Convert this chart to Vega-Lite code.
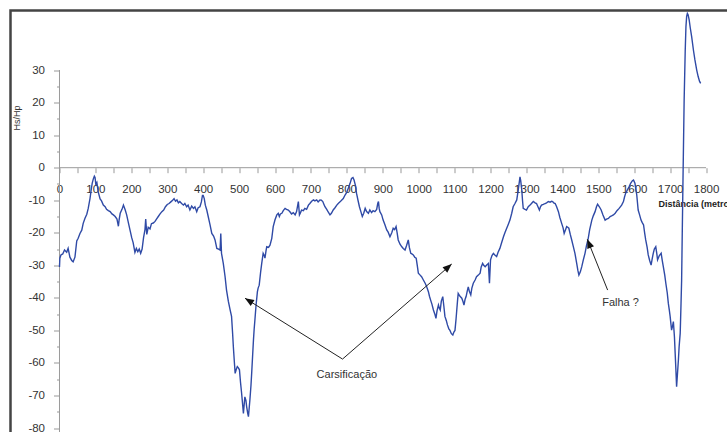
{
  "$schema": "https://vega.github.io/schema/vega-lite/v6.json",
  "autosize": "none",
  "width": 729.5,
  "height": 434.5,
  "padding": {"left": 10.5, "top": 10.5, "right": 0, "bottom": 0},
  "background": "white",
  "config": {
    "view": {"stroke": "#444444", "strokeWidth": 2.5},
    "font": "Liberation Sans"
  },
  "datasets": {
    "profile": [
      {"m":0,"v":-30.5},{"m":1,"v":-27.8},{"m":4,"v":-26.8},{"m":9,"v":-26.5},{"m":14,"v":-25.3},{"m":20,"v":-26.0},{"m":24,"v":-24.8},{"m":29,"v":-27.5},{"m":34,"v":-28.5},{"m":38,"v":-28.9},{"m":43,"v":-27.5},{"m":48,"v":-22.5},{"m":52,"v":-21.7},{"m":57,"v":-20.2},{"m":62,"v":-19.2},{"m":66,"v":-17.1},{"m":71,"v":-15.5},{"m":76,"v":-14.3},{"m":80,"v":-12.5},{"m":85,"v":-9.4},{"m":88,"v":-7.0},{"m":91,"v":-4.8},{"m":94,"v":-3.5},{"m":97,"v":-2.6},{"m":99,"v":-3.0},{"m":101,"v":-5.0},{"m":104,"v":-4.5},{"m":108,"v":-7.5},{"m":113,"v":-9.6},{"m":117,"v":-10.2},{"m":122,"v":-11.5},{"m":127,"v":-12.0},{"m":131,"v":-12.8},{"m":136,"v":-13.2},{"m":141,"v":-13.5},{"m":146,"v":-14.2},{"m":150,"v":-14.5},{"m":155,"v":-15.0},{"m":160,"v":-15.8},{"m":164,"v":-18.0},{"m":166,"v":-16.0},{"m":169,"v":-14.0},{"m":174,"v":-12.8},{"m":178,"v":-11.5},{"m":183,"v":-13.0},{"m":187,"v":-14.5},{"m":192,"v":-17.0},{"m":197,"v":-19.5},{"m":201,"v":-21.5},{"m":205,"v":-23.0},{"m":210,"v":-26.0},{"m":214,"v":-24.8},{"m":218,"v":-25.8},{"m":222,"v":-25.0},{"m":226,"v":-26.3},{"m":230,"v":-25.0},{"m":234,"v":-21.5},{"m":238,"v":-19.0},{"m":240,"v":-15.8},{"m":243,"v":-20.5},{"m":247,"v":-18.3},{"m":252,"v":-18.8},{"m":256,"v":-17.2},{"m":261,"v":-17.0},{"m":266,"v":-16.5},{"m":270,"v":-15.8},{"m":275,"v":-15.0},{"m":280,"v":-14.2},{"m":285,"v":-13.5},{"m":290,"v":-13.0},{"m":295,"v":-12.0},{"m":300,"v":-11.3},{"m":305,"v":-11.0},{"m":310,"v":-10.5},{"m":315,"v":-10.0},{"m":319,"v":-9.5},{"m":323,"v":-10.3},{"m":327,"v":-9.9},{"m":331,"v":-10.8},{"m":335,"v":-10.4},{"m":340,"v":-11.0},{"m":345,"v":-11.5},{"m":349,"v":-11.0},{"m":354,"v":-12.0},{"m":358,"v":-11.5},{"m":363,"v":-13.0},{"m":368,"v":-11.8},{"m":373,"v":-12.5},{"m":377,"v":-12.0},{"m":382,"v":-13.5},{"m":386,"v":-12.3},{"m":391,"v":-12.0},{"m":395,"v":-10.5},{"m":398,"v":-8.5},{"m":400,"v":-8.5},{"m":403,"v":-9.5},{"m":406,"v":-11.5},{"m":410,"v":-13.0},{"m":414,"v":-15.0},{"m":419,"v":-17.5},{"m":424,"v":-20.2},{"m":429,"v":-21.0},{"m":433,"v":-22.2},{"m":438,"v":-24.8},{"m":443,"v":-25.0},{"m":447,"v":-25.3},{"m":449,"v":-20.2},{"m":451,"v":-26.3},{"m":456,"v":-29.4},{"m":461,"v":-33.5},{"m":465,"v":-37.6},{"m":470,"v":-41.0},{"m":475,"v":-43.7},{"m":479,"v":-45.7},{"m":482,"v":-51.0},{"m":484,"v":-55.0},{"m":487,"v":-60.0},{"m":489,"v":-63.2},{"m":492,"v":-62.0},{"m":495,"v":-61.1},{"m":498,"v":-61.5},{"m":501,"v":-62.1},{"m":504,"v":-66.0},{"m":507,"v":-69.3},{"m":510,"v":-73.0},{"m":512,"v":-75.5},{"m":514,"v":-73.0},{"m":516,"v":-70.4},{"m":519,"v":-71.5},{"m":521,"v":-73.4},{"m":524,"v":-75.5},{"m":526,"v":-76.5},{"m":528,"v":-74.0},{"m":530,"v":-71.4},{"m":533,"v":-67.0},{"m":535,"v":-63.2},{"m":538,"v":-57.0},{"m":540,"v":-52.9},{"m":542,"v":-49.5},{"m":544,"v":-46.8},{"m":547,"v":-42.5},{"m":551,"v":-38.1},{"m":553,"v":-37.0},{"m":556,"v":-36.1},{"m":560,"v":-32.0},{"m":563,"v":-29.4},{"m":567,"v":-26.3},{"m":570,"v":-27.0},{"m":572,"v":-27.8},{"m":575,"v":-25.5},{"m":577,"v":-24.3},{"m":582,"v":-24.5},{"m":586,"v":-23.8},{"m":591,"v":-21.7},{"m":595,"v":-18.1},{"m":600,"v":-16.0},{"m":605,"v":-14.5},{"m":609,"v":-14.0},{"m":612,"v":-15.0},{"m":615,"v":-14.2},{"m":619,"v":-14.0},{"m":623,"v":-13.2},{"m":628,"v":-12.5},{"m":632,"v":-12.8},{"m":637,"v":-13.0},{"m":642,"v":-13.6},{"m":646,"v":-14.2},{"m":651,"v":-13.8},{"m":656,"v":-14.5},{"m":660,"v":-13.5},{"m":665,"v":-10.4},{"m":668,"v":-14.5},{"m":671,"v":-13.8},{"m":674,"v":-13.0},{"m":679,"v":-13.2},{"m":683,"v":-12.5},{"m":688,"v":-12.8},{"m":693,"v":-11.5},{"m":697,"v":-11.0},{"m":702,"v":-10.3},{"m":707,"v":-9.9},{"m":711,"v":-10.2},{"m":716,"v":-9.9},{"m":720,"v":-10.5},{"m":725,"v":-9.9},{"m":729,"v":-10.0},{"m":733,"v":-10.4},{"m":736,"v":-11.2},{"m":739,"v":-12.0},{"m":744,"v":-12.8},{"m":748,"v":-13.6},{"m":753,"v":-14.5},{"m":757,"v":-14.0},{"m":762,"v":-13.0},{"m":767,"v":-12.3},{"m":772,"v":-11.5},{"m":776,"v":-11.0},{"m":781,"v":-10.5},{"m":786,"v":-9.9},{"m":790,"v":-9.5},{"m":795,"v":-8.4},{"m":800,"v":-7.5},{"m":804,"v":-6.3},{"m":809,"v":-4.8},{"m":813,"v":-3.3},{"m":817,"v":-3.0},{"m":820,"v":-3.8},{"m":824,"v":-5.5},{"m":827,"v":-7.9},{"m":831,"v":-10.0},{"m":835,"v":-12.0},{"m":839,"v":-13.5},{"m":843,"v":-15.0},{"m":847,"v":-14.0},{"m":851,"v":-12.5},{"m":855,"v":-13.5},{"m":860,"v":-14.0},{"m":864,"v":-13.0},{"m":869,"v":-13.8},{"m":873,"v":-13.2},{"m":878,"v":-13.5},{"m":883,"v":-12.8},{"m":886,"v":-11.0},{"m":888,"v":-10.4},{"m":890,"v":-12.5},{"m":892,"v":-13.5},{"m":897,"v":-14.5},{"m":901,"v":-16.1},{"m":906,"v":-17.5},{"m":911,"v":-19.1},{"m":915,"v":-19.8},{"m":920,"v":-21.2},{"m":925,"v":-20.0},{"m":929,"v":-18.6},{"m":933,"v":-19.0},{"m":937,"v":-18.1},{"m":940,"v":-20.0},{"m":943,"v":-22.2},{"m":948,"v":-23.5},{"m":953,"v":-24.3},{"m":957,"v":-24.8},{"m":962,"v":-25.3},{"m":966,"v":-24.0},{"m":971,"v":-22.2},{"m":974,"v":-24.5},{"m":978,"v":-26.3},{"m":981,"v":-26.5},{"m":985,"v":-26.8},{"m":989,"v":-27.5},{"m":993,"v":-27.8},{"m":996,"v":-30.0},{"m":999,"v":-32.4},{"m":1004,"v":-33.0},{"m":1008,"v":-33.5},{"m":1013,"v":-34.5},{"m":1018,"v":-35.5},{"m":1022,"v":-36.5},{"m":1027,"v":-38.1},{"m":1030,"v":-39.5},{"m":1033,"v":-40.6},{"m":1037,"v":-42.0},{"m":1041,"v":-43.7},{"m":1045,"v":-45.0},{"m":1048,"v":-46.3},{"m":1051,"v":-44.0},{"m":1055,"v":-42.2},{"m":1057,"v":-43.0},{"m":1060,"v":-43.7},{"m":1063,"v":-41.0},{"m":1067,"v":-39.6},{"m":1070,"v":-42.5},{"m":1073,"v":-45.7},{"m":1077,"v":-47.0},{"m":1080,"v":-48.3},{"m":1084,"v":-49.5},{"m":1087,"v":-50.0},{"m":1091,"v":-51.0},{"m":1095,"v":-51.4},{"m":1098,"v":-50.5},{"m":1101,"v":-50.0},{"m":1104,"v":-46.5},{"m":1106,"v":-43.7},{"m":1108,"v":-41.0},{"m":1110,"v":-38.6},{"m":1115,"v":-39.5},{"m":1120,"v":-40.1},{"m":1123,"v":-41.0},{"m":1126,"v":-42.2},{"m":1129,"v":-40.5},{"m":1132,"v":-39.6},{"m":1135,"v":-38.0},{"m":1138,"v":-36.6},{"m":1141,"v":-38.0},{"m":1145,"v":-39.1},{"m":1148,"v":-37.0},{"m":1152,"v":-35.5},{"m":1157,"v":-34.5},{"m":1161,"v":-33.5},{"m":1166,"v":-33.0},{"m":1171,"v":-32.4},{"m":1174,"v":-30.5},{"m":1178,"v":-29.4},{"m":1181,"v":-30.0},{"m":1185,"v":-30.4},{"m":1190,"v":-29.8},{"m":1194,"v":-29.4},{"m":1197,"v":-35.5},{"m":1200,"v":-28.3},{"m":1204,"v":-27.0},{"m":1208,"v":-26.3},{"m":1212,"v":-26.8},{"m":1217,"v":-27.3},{"m":1221,"v":-26.0},{"m":1226,"v":-24.8},{"m":1231,"v":-23.0},{"m":1236,"v":-21.2},{"m":1240,"v":-20.0},{"m":1245,"v":-18.6},{"m":1249,"v":-17.5},{"m":1254,"v":-16.1},{"m":1259,"v":-14.0},{"m":1263,"v":-12.0},{"m":1268,"v":-11.0},{"m":1273,"v":-9.9},{"m":1277,"v":-6.9},{"m":1280,"v":-4.5},{"m":1282,"v":-2.8},{"m":1284,"v":-4.0},{"m":1287,"v":-6.9},{"m":1289,"v":-10.0},{"m":1291,"v":-12.5},{"m":1296,"v":-12.8},{"m":1300,"v":-13.0},{"m":1305,"v":-12.0},{"m":1310,"v":-11.5},{"m":1314,"v":-11.0},{"m":1319,"v":-10.4},{"m":1324,"v":-10.8},{"m":1328,"v":-11.0},{"m":1332,"v":-12.0},{"m":1336,"v":-13.0},{"m":1339,"v":-12.0},{"m":1342,"v":-11.5},{"m":1347,"v":-11.3},{"m":1352,"v":-11.0},{"m":1356,"v":-10.8},{"m":1361,"v":-10.4},{"m":1366,"v":-10.6},{"m":1370,"v":-10.3},{"m":1373,"v":-10.4},{"m":1376,"v":-10.8},{"m":1380,"v":-11.0},{"m":1384,"v":-12.0},{"m":1389,"v":-13.5},{"m":1393,"v":-15.3},{"m":1398,"v":-17.1},{"m":1402,"v":-18.5},{"m":1405,"v":-20.2},{"m":1409,"v":-19.0},{"m":1412,"v":-18.1},{"m":1415,"v":-18.3},{"m":1418,"v":-18.6},{"m":1422,"v":-20.5},{"m":1426,"v":-22.2},{"m":1430,"v":-24.0},{"m":1435,"v":-26.3},{"m":1440,"v":-29.5},{"m":1443,"v":-31.5},{"m":1446,"v":-33.0},{"m":1450,"v":-32.0},{"m":1454,"v":-30.4},{"m":1458,"v":-28.5},{"m":1463,"v":-26.3},{"m":1467,"v":-24.0},{"m":1472,"v":-21.7},{"m":1476,"v":-19.0},{"m":1482,"v":-16.1},{"m":1486,"v":-14.8},{"m":1491,"v":-13.5},{"m":1495,"v":-12.0},{"m":1498,"v":-11.2},{"m":1503,"v":-12.0},{"m":1508,"v":-13.0},{"m":1513,"v":-14.5},{"m":1519,"v":-16.1},{"m":1523,"v":-15.8},{"m":1528,"v":-15.6},{"m":1533,"v":-15.0},{"m":1537,"v":-14.8},{"m":1542,"v":-14.5},{"m":1547,"v":-14.0},{"m":1552,"v":-13.2},{"m":1558,"v":-12.5},{"m":1565,"v":-11.5},{"m":1570,"v":-10.4},{"m":1573,"v":-9.0},{"m":1576,"v":-7.9},{"m":1581,"v":-6.8},{"m":1586,"v":-5.8},{"m":1590,"v":-4.8},{"m":1595,"v":-4.0},{"m":1598,"v":-3.8},{"m":1602,"v":-4.8},{"m":1607,"v":-8.3},{"m":1611,"v":-13.0},{"m":1615,"v":-14.5},{"m":1619,"v":-16.1},{"m":1622,"v":-16.8},{"m":1626,"v":-17.6},{"m":1629,"v":-20.0},{"m":1632,"v":-22.2},{"m":1636,"v":-24.5},{"m":1639,"v":-26.8},{"m":1643,"v":-28.5},{"m":1647,"v":-29.9},{"m":1650,"v":-28.0},{"m":1653,"v":-26.3},{"m":1656,"v":-25.0},{"m":1660,"v":-24.3},{"m":1663,"v":-26.5},{"m":1665,"v":-28.3},{"m":1670,"v":-27.0},{"m":1675,"v":-26.3},{"m":1678,"v":-28.5},{"m":1681,"v":-30.4},{"m":1685,"v":-33.0},{"m":1688,"v":-35.5},{"m":1692,"v":-38.5},{"m":1695,"v":-41.7},{"m":1698,"v":-44.0},{"m":1700,"v":-45.7},{"m":1704,"v":-49.9},{"m":1707,"v":-48.5},{"m":1709,"v":-47.3},{"m":1712,"v":-52.0},{"m":1714,"v":-57.0},{"m":1716,"v":-62.0},{"m":1718,"v":-67.3},{"m":1720,"v":-64.0},{"m":1723,"v":-59.1},{"m":1725,"v":-55.0},{"m":1728,"v":-50.9},{"m":1730,"v":-43.0},{"m":1732,"v":-34.5},{"m":1734,"v":-18.0},{"m":1736,"v":-2.0},{"m":1739,"v":20.8},{"m":1742,"v":36.0},{"m":1744,"v":43.3},{"m":1746,"v":46.5},{"m":1748,"v":47.4},{"m":1750,"v":47.0},{"m":1753,"v":45.4},{"m":1756,"v":43.0},{"m":1760,"v":40.2},{"m":1765,"v":36.0},{"m":1769,"v":33.1},{"m":1774,"v":30.0},{"m":1778,"v":28.0},{"m":1782,"v":26.5},{"m":1785,"v":25.9}
    ],
    "axislines": [
      {"m": 0, "v": 30, "m2": 0, "v2": -90},
      {"m": 0, "v": 0, "m2": 1800, "v2": 0}
    ],
    "arrows": [
      {"id": "c1", "m": 788, "v": -58.8, "m2": 516.4, "v2": -40.1},
      {"id": "c2", "m": 788, "v": -58.8, "m2": 1091.9, "v2": -29.6},
      {"id": "f", "m": 1526, "v": -37.6, "m2": 1469.4, "v2": -22.0}
    ],
    "heads": [
      {"id": "c1", "m": 516.4, "v": -40.1},
      {"id": "c2", "m": 1091.9, "v": -29.6},
      {"id": "f", "m": 1469.4, "v": -22.0}
    ],
    "notes": [
      {"m": 800, "v": -63.7, "label": "Carsificação"},
      {"m": 1562, "v": -41.7, "label": "Falha ?"}
    ]
  },
  "encoding": {
    "x": {
      "field": "m", "type": "quantitative",
      "scale": {"domain": [-136.4, 1894.5], "nice": false, "zero": false},
      "axis": {
        "orient": "bottom", "offset": -277.3, "domain": false, "grid": false,
        "values": [0,50,100,150,200,250,300,350,400,450,500,550,600,650,700,750,800,850,900,950,1000,1050,1100,1150,1200,1250,1300,1350,1400,1450,1500,1550,1600,1650,1700,1750,1800],
        "labelExpr": "datum.value % 100 === 0 ? '' + datum.value : ''",
        "tickSize": 5, "tickColor": "#999999", "tickWidth": 1,
        "labelColor": "#333333", "labelFontSize": 11.5, "labelPadding": 11,
        "labelFlush": false, "labelOverlap": false,
        "title": "Distância (metros)", "titleFontSize": 9, "titleFontWeight": "bold", "titleColor": "#222222",
        "titleAlign": "left", "titleBaseline": "middle", "titleX": 647.5, "titleY": 35.3
      }
    },
    "y": {
      "field": "v", "type": "quantitative",
      "scale": {"domain": [-85.2, 48.3], "nice": false, "zero": false},
      "axis": {
        "orient": "left", "offset": -49, "domain": false, "grid": false,
        "values": [-80,-75,-70,-65,-60,-55,-50,-45,-40,-35,-30,-25,-20,-15,-10,-5,0,5,10,15,20,25,30],
        "labelExpr": "datum.value % 10 === 0 ? '' + datum.value : ''",
        "tickSize": {"condition": {"test": "datum.value % 10 === 0", "value": 6}, "value": 3},
        "tickColor": "#999999", "tickWidth": 1,
        "labelColor": "#333333", "labelFontSize": 11.5, "labelPadding": 9,
        "labelFlush": false, "labelOverlap": false,
        "title": "Hs/Hp", "titleFontSize": 9, "titleFontWeight": "normal", "titleColor": "#333333",
        "titleAngle": 270, "titleAlign": "center", "titleBaseline": "middle", "titleX": -43, "titleY": 107
      }
    }
  },
  "layer": [
    {
      "data": {"name": "axislines"},
      "mark": {"type": "rule", "color": "#9a9a9a", "strokeWidth": 1, "clip": true},
      "encoding": {
        "x2": {"field": "m2"},
        "y2": {"field": "v2"}
      }
    },
    {
      "data": {"name": "profile"},
      "mark": {"type": "line", "color": "#2f4aa6", "strokeWidth": 1.4, "clip": true},
      "encoding": {}
    },
    {
      "data": {"name": "arrows"},
      "mark": {"type": "rule", "color": "#222222", "strokeWidth": 1},
      "encoding": {
        "x2": {"field": "m2"},
        "y2": {"field": "v2"}
      }
    },
    {
      "data": {"name": "heads"},
      "transform": [{"filter": "datum.id === 'c1'"}],
      "mark": {"type": "point", "shape": "M0,0L-0.4,1L0.4,1Z", "filled": true, "color": "#111111", "opacity": 1, "size": 324, "angle": 302},
      "encoding": {}
    },
    {
      "data": {"name": "heads"},
      "transform": [{"filter": "datum.id === 'c2'"}],
      "mark": {"type": "point", "shape": "M0,0L-0.4,1L0.4,1Z", "filled": true, "color": "#111111", "opacity": 1, "size": 324, "angle": 49},
      "encoding": {}
    },
    {
      "data": {"name": "heads"},
      "transform": [{"filter": "datum.id === 'f'"}],
      "mark": {"type": "point", "shape": "M0,0L-0.4,1L0.4,1Z", "filled": true, "color": "#111111", "opacity": 1, "size": 324, "angle": 338},
      "encoding": {}
    },
    {
      "data": {"name": "notes"},
      "mark": {"type": "text", "fontSize": 11, "color": "#333333", "align": "center", "baseline": "middle", "font": "Liberation Sans"},
      "encoding": {
        "text": {"field": "label"}
      }
    }
  ]
}
